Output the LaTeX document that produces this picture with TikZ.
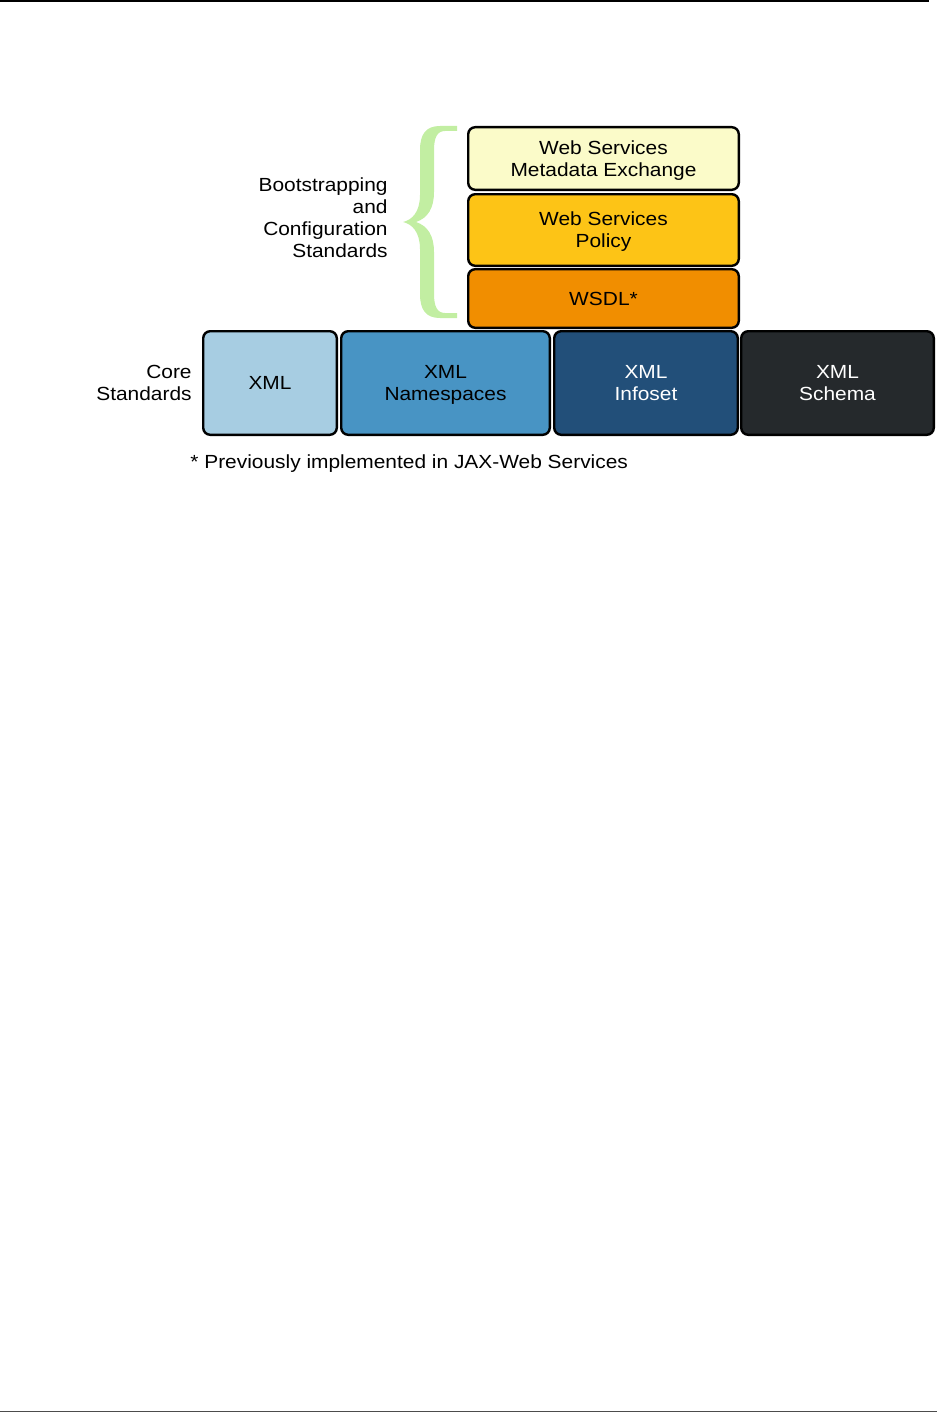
\documentclass[tikz,border=0pt]{standalone}
\usepackage{fontspec}
\setmainfont[FakeStretch=1.1]{Liberation Sans}
\usepackage{xcolor}
\usetikzlibrary{positioning,calc}
\definecolor{metacolor}{RGB}{251, 251, 201}
\definecolor{policycolor}{RGB}{253, 196, 22}
\definecolor{wsdlcolor}{RGB}{241, 142, 0}
\definecolor{xmlcolor}{RGB}{167, 205, 226}
\definecolor{nscolor}{RGB}{72, 148, 196}
\definecolor{infosetcolor}{RGB}{34, 79, 121}
\definecolor{schemacolor}{RGB}{37, 41, 44}
\definecolor{bracecolor}{RGB}{194, 238, 162}
\newcommand{\ts}{\rule[-2.1pt]{0pt}{11pt}}

\begin{document}
\begin{tikzpicture}[x=0.5pt,y=-0.5pt,font=\fontsize{9.5pt}{11pt}\selectfont,box/.style={draw=black,line width=1.2pt,rounded corners=3.5pt,align=center,inner sep=0pt},stackbox/.style={box,minimum width=135.3pt},corebox/.style={box,minimum height=51.8pt},lbl/.style={align=right,inner sep=0pt}]
\useasboundingbox (0,0) rectangle (937,1413);
\draw[line width=1pt] (0,1)--(929,1); \draw[line width=0.75pt,black!70] (0,1411.5)--(937,1411.5);
% stack of bootstrapping standards
\node[stackbox,fill=metacolor,minimum height=31.3pt] (meta) at (603.5,158.5) {Web Services\ts\\Metadata Exchange\ts};
\node[stackbox,fill=policycolor,minimum height=35.8pt,below=1pt of meta] (policy) {Web Services\ts\\Policy\ts};
\node[stackbox,fill=wsdlcolor,minimum height=29.3pt,below=0.5pt of policy] (wsdl) {WSDL*\ts};
% core row
\node[corebox,fill=xmlcolor,minimum width=66.8pt] (xml) at (270,383) {XML\ts};
\node[corebox,fill=nscolor,minimum width=104.3pt,right=1pt of xml] (ns) {XML\ts\\Namespaces\ts};
\node[corebox,fill=infosetcolor,text=white,minimum width=91.8pt,right=1pt of ns] (infoset) {XML\ts\\Infoset\ts};
\node[corebox,fill=schemacolor,text=white,minimum width=96.3pt,right=0.5pt of infoset] (schema) {XML\ts\\Schema\ts};
% labels
\node[lbl,left=5pt of xml] (core) {Core\ts\\Standards\ts};
\node[lbl,anchor=east] (boot) at (388,218) {Bootstrapping\ts\\and\ts\\Configuration\ts\\Standards\ts};
\node[inner sep=0pt,anchor=base west] (note) at (190,468) {* Previously implemented in JAX-Web Services};
% brace
\fill[bracecolor] (457,126)--(440,126) .. controls (426,126) and (420,134) .. (420,150)--(420,195) .. controls (420,212) and (412,220) .. (403,222) .. controls (412,224) and (420,232) .. (420,249)--(420,294) .. controls (420,310) and (426,318) .. (440,318)--(457,318)--(457,313)--(445,313) .. controls (437,313) and (434,306) .. (434,294)--(434,252) .. controls (434,236) and (428,226) .. (416,222) .. controls (428,218) and (434,208) .. (434,192)--(434,150) .. controls (434,138) and (437,131) .. (445,131)--(457,131)--cycle;
\end{tikzpicture}
\end{document}
